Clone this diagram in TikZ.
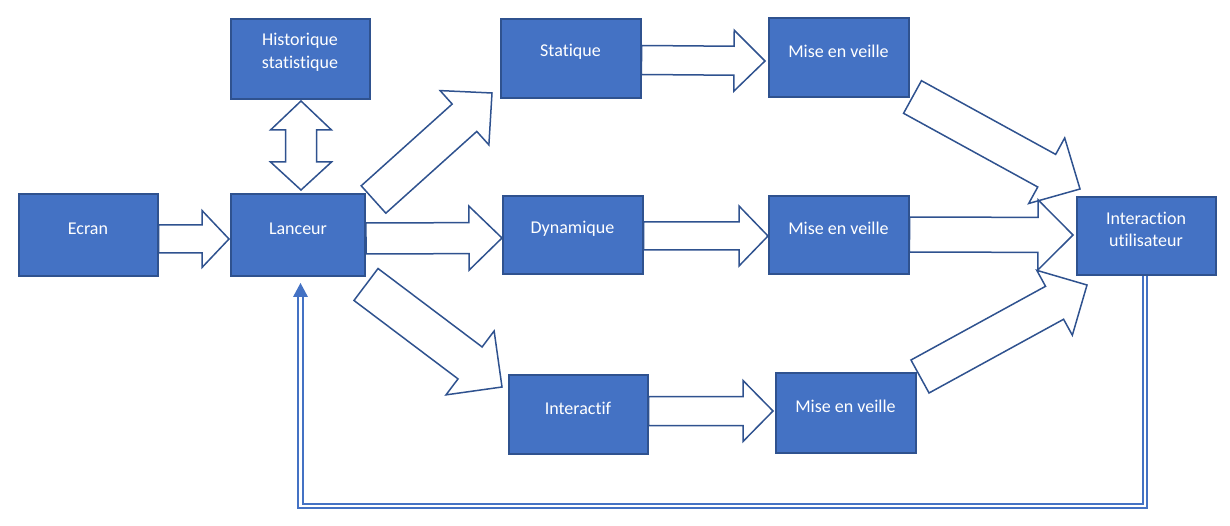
\documentclass[tikz,border=0pt]{standalone}
\usepackage{fontspec}
\setmainfont[Ligatures=NoCommon]{Carlito}
\usetikzlibrary{calc,arrows.meta}
\definecolor{boxc}{HTML}{4472C4}
\definecolor{bordc}{HTML}{2F528F}
\newcommand\fsz{\fontsize{18}{22.5}\selectfont}
\newcommand\blockarr[5]{%
  \coordinate (ba-h) at ($(#2)!#5!(#1)$);
  \draw[barrow] ($(#1)!#3!90:(#2)$) -- ($(ba-h)!#3!90:(#2)$) -- ($(ba-h)!#4!90:(#2)$) -- (#2)
    -- ($(ba-h)!#4!-90:(#2)$) -- ($(ba-h)!#3!-90:(#2)$) -- ($(#1)!#3!-90:(#2)$) -- cycle;}
\begin{document}
\begin{tikzpicture}[x=1pt,y=-1pt,
  box/.style={draw=bordc, fill=boxc, line width=2pt, minimum width=139pt, minimum height=79pt, inner sep=0pt},
  lbl/.style={text=white, font=\fsz, align=center, yshift=6.5pt, inner sep=0pt},
  barrow/.style={draw=bordc, fill=white, line width=1.5pt, line join=miter},
  fb/.style={draw=boxc, line width=2pt, double=white, double distance=2.5pt},
  fbtip/.style={fill=boxc, draw=none}]
\useasboundingbox (0,0) rectangle (1230,526);
% boxes
\node[box, minimum height=80pt] (hist) at (300,59) {};
\node[lbl] at (hist) {Historique\\statistique};
\node[box, minimum width=140pt] (stat) at (570.5,58.5) {};
\node[lbl] at (stat) {Statique};
\node[box, minimum width=140pt] (mise1) at (838.5,57.5) {};
\node[lbl] at (mise1) {Mise en veille};
\node[box, minimum height=82pt] (ecran) at (88,235) {};
\node[lbl] at (ecran) {Ecran};
\node[box, minimum width=134pt, minimum height=82pt] (lanc) at (298,235) {};
\node[lbl] at (lanc) {Lanceur};
\node[box, minimum width=140pt, minimum height=78pt] (dyn) at (572.5,235) {};
\node[lbl] at (dyn) {Dynamique};
\node[box, minimum width=140pt, minimum height=78pt] (mise2) at (838.5,235) {};
\node[lbl] at (mise2) {Mise en veille};
\node[box, minimum height=78pt] (inter) at (1146,236) {};
\node[lbl] at (inter) {Interaction\\utilisateur};
\node[box] (iact) at (578,414.5) {};
\node[lbl] at (iact) {Interactif};
\node[box, minimum width=140pt, minimum height=80pt] (mise3) at (845.5,413) {};
\node[lbl] at (mise3) {Mise en veille};
% block arrow anchors
\coordinate (a1t) at (ecran.east |- 0,239);  \coordinate (a1h) at (229,239);
\coordinate (a2t) at (lanc.east |- 0,238.5); \coordinate (a2h) at (502,238);
\coordinate (a3t) at (stat.east |- 0,60);    \coordinate (a3h) at (765,61);
\coordinate (a4t) at (dyn.east |- 0,236);    \coordinate (a4h) at (768,236);
\coordinate (a5t) at (iact.east |- 0,411);   \coordinate (a5h) at (773,411);
\coordinate (a6t) at (mise2.east |- 0,234.5);\coordinate (a6h) at (1073,235);
\coordinate (d1t) at (373.5,199.5); \coordinate (d1h) at (492,93);
\coordinate (d2t) at (366,284.5);   \coordinate (d2h) at (502,387);
\coordinate (d3t) at (912.5,97);    \coordinate (d3h) at (1080,189);
\coordinate (d4t) at (920,376.5);   \coordinate (d4h) at (1087,285);
% horizontal block arrows
\blockarr{a1t}{a1h}{14pt}{28.5pt}{27pt}
\blockarr{a2t}{a2h}{15.5pt}{32pt}{33pt}
\blockarr{a3t}{a3h}{14.5pt}{30.5pt}{31pt}
\blockarr{a4t}{a4h}{14pt}{30pt}{29pt}
\blockarr{a5t}{a5h}{14.5pt}{30.5pt}{30pt}
% diagonal block arrows
\blockarr{d1t}{d1h}{18.4pt}{36.5pt}{37pt}
\blockarr{d2t}{d2h}{20pt}{40pt}{40pt}
\blockarr{d3t}{d3h}{18.6pt}{37.4pt}{38pt}
\blockarr{a6t}{a6h}{17.5pt}{35pt}{35pt}
\blockarr{d4t}{d4h}{18.8pt}{37pt}{37pt}
% double vertical arrow
\coordinate (dT) at (301,101);
\coordinate (dB) at (301,190);
\draw[barrow] (dT) -- ++(30.5,29) -- ++(-15,0) -- ++(0,32) -- ++(15,0) -- (dB)
  -- ++(-30.5,-28) -- ++(15,0) -- ++(0,-32) -- ++(-15,0) -- cycle;
% feedback line
\coordinate (fbR) at (1145,0);
\coordinate (fbL) at (300.5,506);
\coordinate (fbTip) at ($(lanc.south -| fbL)+(0,6)$);
\coordinate (fbBase) at ($(fbTip)+(0,14)$);
\draw[fb] (inter.south -| fbR) |- (fbL) -- ($(fbBase)+(0,-1)$);
\fill[fbtip] (fbTip) -- ($(fbBase)+(-7.5,0)$) -- ($(fbBase)+(7.5,0)$) -- cycle;
\end{tikzpicture}
\end{document}
